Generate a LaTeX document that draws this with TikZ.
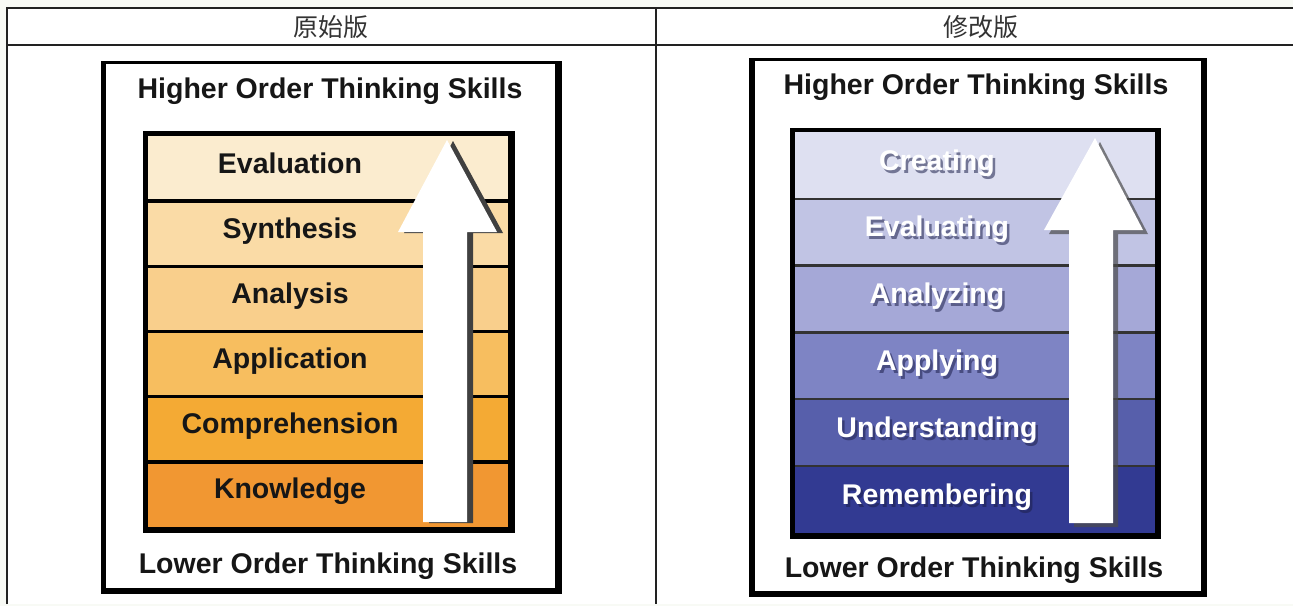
\documentclass[tikz,border=0pt]{standalone}
\usepackage{fontspec}
\setmainfont{Liberation Sans}
\newfontfamily\cjk{Noto Sans CJK SC}
\definecolor{pagebg}{HTML}{F8FAF5}
\definecolor{tline}{HTML}{222222}
\definecolor{lA}{HTML}{FBECCF}
\definecolor{lB}{HTML}{FADBA6}
\definecolor{lC}{HTML}{F9CF8C}
\definecolor{lD}{HTML}{F7BE5F}
\definecolor{lE}{HTML}{F4AA34}
\definecolor{lF}{HTML}{F19732}
\definecolor{rA}{HTML}{DEE0F1}
\definecolor{rB}{HTML}{C1C4E4}
\definecolor{rC}{HTML}{A5A8D7}
\definecolor{rD}{HTML}{7E84C4}
\definecolor{rE}{HTML}{575FAB}
\definecolor{rF}{HTML}{323A92}
\definecolor{txtdark}{HTML}{161616}
\definecolor{navyshadow}{HTML}{1C1F4A}
\newcommand{\shadowtext}[2]{\rlap{\kern2.5pt\raisebox{-3pt}{\color{#1}#2}}#2}
\tikzset{
  tableline/.style={draw=tline,line width=2pt},
  headtext/.style={inner sep=0pt,text=black!80,font=\cjk\fontsize{25}{27}\selectfont},
  titletext/.style={inner sep=0pt,anchor=base,text=txtdark,font=\bfseries\fontsize{28.5}{30}\selectfont},
  labelL/.style={inner sep=0pt,anchor=base,text=txtdark,font=\bfseries\fontsize{28.5}{30}\selectfont},
  labelR/.style={inner sep=0pt,anchor=base,text=white,font=\bfseries\fontsize{28.5}{30}\selectfont},
  sepL/.style={draw=black,line width=3.5pt},
  sepR/.style={draw=black!80,line width=2.5pt},
}
\begin{document}
\begin{tikzpicture}[x=1pt,y=-1pt]
\useasboundingbox (0,0) rectangle (1293,606);
\fill[pagebg] (0,0) rectangle (1293,606);
\fill[white] (7,8) rectangle (1293,604);
% table
\draw[tableline] (7,604) -- (7,8) -- (1293,8);
\draw[tableline] (7,45) -- (1293,45);
\draw[tableline] (656,8) -- (656,604);
\node[headtext] (h1) at (331,27) {原始版};
\node[headtext] (h2) at (981,27) {修改版};

% ---------- left panel ----------
\fill[black] (101,61) rectangle (562,594);
\fill[white] (106,64) rectangle (555,588);
\node[titletext] (hiL) at (330,98) {Higher Order Thinking Skills};
\node[titletext] (loL) at (328,573) {Lower Order Thinking Skills};
\fill[black] (143,131) rectangle (515,533);
\foreach \c/\t [count=\i from 0] in {lA/Evaluation,lB/Synthesis,lC/Analysis,lD/Application,lE/Comprehension,lF/Knowledge}{
  \fill[\c] (148,{136+\i*65.17}) rectangle (508,{136+(\i+1)*65.17});
}
\foreach \i in {1,...,5}{
  \draw[sepL] (148,{136+\i*65.17}) -- (508,{136+\i*65.17});
}
\foreach \t [count=\i from 0] in {Evaluation,Synthesis,Analysis,Application,Comprehension,Knowledge}{
  \node[labelL] (L\i) at (290,{136+\i*65.17+37}) {\t};
}
% left arrow
\fill[black!75,shift={(6,1)}] (447,140) -- (497,232) -- (467,232) -- (467,522) -- (423,522) -- (423,232) -- (398,232) -- cycle;
\fill[white] (447,140) -- (497,232) -- (467,232) -- (467,522) -- (423,522) -- (423,232) -- (398,232) -- cycle;

% ---------- right panel ----------
\fill[black] (749,58) rectangle (1207,597);
\fill[white] (755,61) rectangle (1201,591);
\node[titletext] (hiR) at (976,94) {Higher Order Thinking Skills};
\node[titletext] (loR) at (974,577) {Lower Order Thinking Skills};
\fill[black] (790,128) rectangle (1161,539);
\foreach \c [count=\i from 0] in {rA,rB,rC,rD,rE,rF}{
  \fill[\c] (795,{132+\i*66.8}) rectangle (1155,{132+(\i+1)*66.8});
}
\foreach \i in {1,...,5}{
  \draw[sepR] (795,{132+\i*66.8}) -- (1155,{132+\i*66.8});
}
\foreach \c/\t [count=\i from 0] in {rA/Creating,rB/Evaluating,rC/Analyzing,rD/Applying,rE/Understanding,rF/Remembering}{
  \node[labelR] (R\i) at (937,{132+\i*66.8+38}) {\shadowtext{navyshadow!55!\c}{\t}};
}
% right arrow
\fill[black!70,opacity=0.7,shift={(5,4)}] (1095,138) -- (1143,230) -- (1113,230) -- (1113,523) -- (1069,523) -- (1069,230) -- (1044,230) -- cycle;
\fill[white] (1095,138) -- (1143,230) -- (1113,230) -- (1113,523) -- (1069,523) -- (1069,230) -- (1044,230) -- cycle;
\end{tikzpicture}
\end{document}
